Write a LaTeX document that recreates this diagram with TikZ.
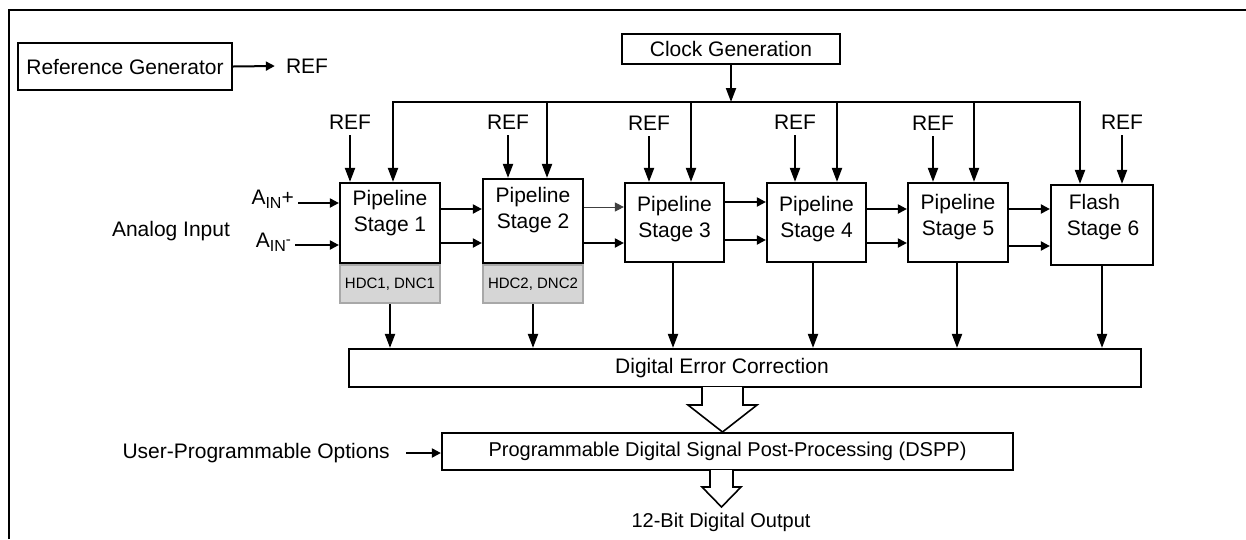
\documentclass[tikz,border=0pt]{standalone}
\usepackage{fontspec}
\setmainfont{Liberation Sans}
\usetikzlibrary{arrows.meta}
\definecolor{hdcfill}{HTML}{D6D6D6}
\definecolor{hdcdraw}{HTML}{A8A8A8}
\begin{document}
\begin{tikzpicture}[x=1pt,y=-1pt,
  font=\fontsize{21}{26}\selectfont,
  box/.style={draw, line width=2.2pt, inner sep=0pt, fill=white},
  gbox/.style={draw=hdcdraw, fill=hdcfill, line width=2pt, inner sep=0pt, font=\fontsize{15}{17}\selectfont},
  varr/.style={line width=2pt, -{Triangle[length=14pt,width=10pt]}},
  harr/.style={line width=2pt, -{Triangle[length=9pt,width=9pt]}},
  lbl/.style={inner sep=0pt, align=center},
  hollow/.style={draw, line width=1.6pt, fill=white, line join=miter}]
\useasboundingbox (0,0) rectangle (1246,539);
% frame
\draw[line width=2pt] (9,539) -- (9,10) -- (1246,10);

% reference generator
\node[box, minimum width=214, minimum height=47] (RG) at (125,66.5) {Reference Generator};
\node[lbl] (rgref) at (307,66) {REF};
\draw[harr] (RG.east) -- ([xshift=-11]rgref.west);

% clock
\node[box, minimum width=218, minimum height=30] (CK) at (731,49) {Clock Generation};
\coordinate (b1) at (393,102);
\coordinate (b2) at (547,102);
\coordinate (b3) at (691,102);
\coordinate (b4) at (837,102);
\coordinate (b5) at (974,102);
\coordinate (b6) at (1080,102);
\draw[line width=2pt, line cap=rect] (b1) -- (b6);
\draw[varr] (CK.south) -- (CK.south |- b1);

% stages
\node[box, minimum width=100, minimum height=80] (S1) at (390,223) {};
\node[box, minimum width=100, minimum height=84] (S2) at (533,221) {};
\node[box, minimum width=99, minimum height=79] (S3) at (674.5,222.5) {};
\node[box, minimum width=99, minimum height=79] (S4) at (816.5,222.5) {};
\node[box, minimum width=100, minimum height=79] (S5) at (958,222.5) {};
\node[box, minimum width=102, minimum height=80] (S6) at (1102,225) {};
\node[gbox, minimum width=100, minimum height=38, anchor=north] (H1) at (S1.south) {HDC1, DNC1};
\node[gbox, minimum width=100, minimum height=38, anchor=north] (H2) at (S2.south) {HDC2, DNC2};
\node[lbl] (t1) at (390,213) {Pipeline\\Stage 1};
\node[lbl] (t2) at (533,210.5) {Pipeline\\Stage 2};
\node[lbl] (t3) at (674.5,219) {Pipeline\\Stage 3};
\node[lbl] (t4) at (816.5,219) {Pipeline\\Stage 4};
\node[lbl] (t5) at (958,217.5) {Pipeline\\Stage 5};
\node[lbl, align=left] (t6) at (1103,217.5) {\hspace*{2pt}Flash\\Stage 6};

% clock drops
\draw[varr] (b1) -- (b1 |- S1.north);
\draw[varr] (b2) -- (b2 |- S2.north);
\draw[varr] (b3) -- (b3 |- S3.north);
\draw[varr] (b4) -- (b4 |- S4.north);
\draw[varr] (b5) -- (b5 |- S5.north);
\draw[varr] (b6) -- (b6 |- S6.north);

% REF inputs
\node[lbl] (r1) at (350,122) {REF};
\node[lbl] (r2) at (508,122) {REF};
\node[lbl] (r3) at (649,123) {REF};
\node[lbl] (r4) at (795,122) {REF};
\node[lbl] (r5) at (933,123) {REF};
\node[lbl] (r6) at (1122,122) {REF};
\draw[varr] ([yshift=-6]r1.south) -- (r1.south |- S1.north);
\draw[varr] ([yshift=-6]r2.south) -- (r2.south |- S2.north);
\draw[varr] ([yshift=-6]r3.south) -- (r3.south |- S3.north);
\draw[varr] ([yshift=-6]r4.south) -- (r4.south |- S4.north);
\draw[varr] ([yshift=-6]r5.south) -- (r5.south |- S5.north);
\draw[varr] ([yshift=-6]r6.south) -- (r6.south |- S6.north);

% analog inputs
\node[lbl] (AI) at (171,231) {Analog Input};
\node[lbl, anchor=east] (ainp) at (294,199) {A\raisebox{-4pt}{\fontsize{16}{16}\selectfont IN}+};
\node[lbl, anchor=east] (ainm) at (291,242) {A\raisebox{-4pt}{\fontsize{16}{16}\selectfont IN}\raisebox{3pt}{\fontsize{15}{15}\selectfont -}};
\draw[harr] ([xshift=4]ainp.east |- 0,203) -- (S1.west |- 0,203);
\draw[harr] ([xshift=4]ainm.east |- 0,245) -- (S1.west |- 0,245);

% inter-stage arrows
\draw[harr] (S1.east |- 0,209) -- (S2.west |- 0,209);
\draw[harr] (S1.east |- 0,243) -- (S2.west |- 0,243);
\draw[harr, line width=1pt, draw=black!75] (S2.east |- 0,207) -- (S3.west |- 0,207);
\draw[harr] (S2.east |- 0,243) -- (S3.west |- 0,243);
\draw[harr] (S3.east |- 0,202) -- (S4.west |- 0,202);
\draw[harr] (S3.east |- 0,240) -- (S4.west |- 0,240);
\draw[harr] (S4.east |- 0,209) -- (S5.west |- 0,209);
\draw[harr] (S4.east |- 0,243) -- (S5.west |- 0,243);
\draw[harr] (S5.east |- 0,209) -- (S6.west |- 0,209);
\draw[harr] (S5.east |- 0,246) -- (S6.west |- 0,246);

% digital error correction
\node[box, minimum width=792, minimum height=38] (DEC) at (745,368) {};
\node[lbl] (dect) at (722,368) {Digital Error Correction};
\draw[varr] (H1.south) -- (H1.south |- DEC.north);
\draw[varr] (H2.south) -- (H2.south |- DEC.north);
\draw[varr] ([xshift=-1.5]S3.south) -- ([xshift=-1.5]S3.south |- DEC.north);
\draw[varr] ([xshift=-3.5]S4.south) -- ([xshift=-3.5]S4.south |- DEC.north);
\draw[varr] ([xshift=-1]S5.south) -- ([xshift=-1]S5.south |- DEC.north);
\draw[varr] (S6.south) -- (S6.south |- DEC.north);

% DSPP
\node[box, minimum width=571, minimum height=37, font=\fontsize{20}{24}\selectfont] (DSPP) at (727.5,451.5) {Programmable Digital Signal Post-Processing (DSPP)};
\node[lbl, anchor=east] (UPO) at (390,453) {User-Programmable Options};
\draw[harr] ([xshift=16]UPO.east) -- (DSPP.west |- UPO.east);

% hollow arrows
\draw[hollow] (702,387) -- (702,405) -- (688,405) -- (722.5,432) -- (757,405) -- (743,405) -- (743,387);
\draw[hollow] (710,470) -- (710,487) -- (702,487) -- (721.5,507) -- (741,487) -- (733,487) -- (733,470);
\node[lbl, font=\fontsize{20}{24}\selectfont] (OUT) at (721,522) {12-Bit Digital Output};
\end{tikzpicture}
\end{document}
